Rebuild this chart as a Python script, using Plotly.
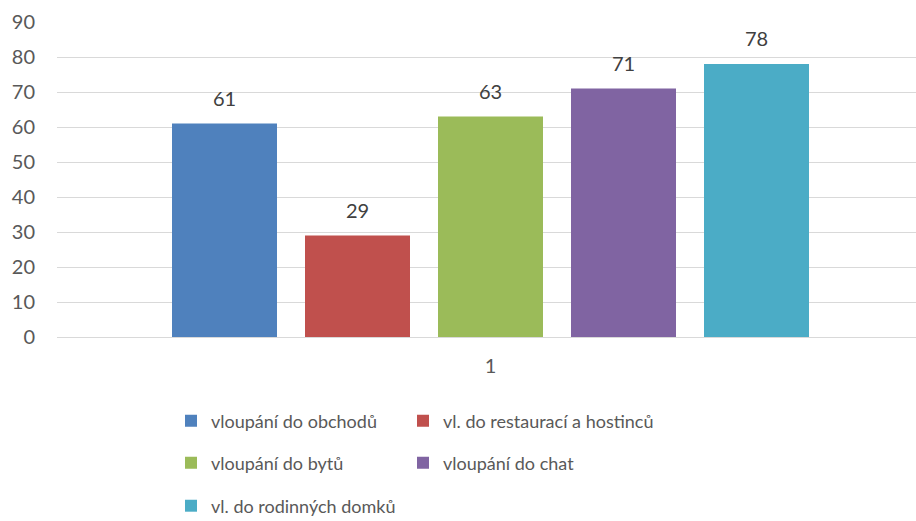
import plotly.graph_objects as go

categories = ["1"]
series_names = [
    "vloupání do obchodů",
    "vl. do restaurací a hostinců",
    "vloupání do bytů",
    "vloupání do chat",
    "vl. do rodinných domků",
]
series_values = [61, 29, 63, 71, 78]
series_colors = ["#4F81BD", "#C0504D", "#9BBB59", "#8064A2", "#4BACC6"]
y_ticks = [0, 10, 20, 30, 40, 50, 60, 70, 80, 90]

# legend placement (row, column) for each series
legend_rows = [0, 0, 1, 1, 2]
legend_cols = [0, 1, 0, 1, 0]

FONT = "Lato"
TXT = "#595959"
FS = 20
LFS = 18

W, H = 916, 521
L, R, T, B = 57, 0, 22, 184
pw = W - L - R
ph = H - T - B
center_px = 490.5 - L
rng_lo = -center_px / pw
group_px = 665
bargap = 1 - group_px / pw

def ypaper(px):
    return (H - B - px) / ph

def xpaper(px):
    return (px - L) / pw

row_px = [421, 463, 506]
col_px = [171, 403]

fig = go.Figure()
legends = {}
for i, (name, val, col) in enumerate(zip(series_names, series_values, series_colors)):
    lid = "legend" if i == 0 else f"legend{i + 1}"
    fig.add_trace(go.Bar(
        x=categories, y=[val], name=name, marker_color=col,
        marker_line_width=0, legend=lid, hoverinfo="skip",
    ))
    legends[lid] = dict(
        orientation="h", xanchor="left", yanchor="middle",
        x=xpaper(col_px[legend_cols[i]]), y=ypaper(row_px[legend_rows[i]]),
        font=dict(family=FONT, size=LFS, color=TXT),
        bgcolor="rgba(0,0,0,0)", borderwidth=0,
    )
for name, val in zip(series_names, series_values):
    fig.add_trace(go.Scatter(
        x=categories, y=[val], mode="markers+text", text=[str(val)],
        textposition="top center", marker=dict(size=19, opacity=0),
        textfont=dict(family=FONT, size=FS, color="#404040"),
        showlegend=False, hoverinfo="skip", cliponaxis=False,
    ))

fig.update_layout(
    width=W, height=H,
    margin=dict(l=L, r=R, t=T, b=B, pad=0, autoexpand=False),
    paper_bgcolor="white", plot_bgcolor="white",
    barmode="group", bargap=bargap, bargroupgap=28 / 133,
    scattermode="group", scattergap=bargap,
    font=dict(family=FONT, size=FS, color=TXT),
    xaxis=dict(type="category", range=[rng_lo, rng_lo + 1], showgrid=False,
               zeroline=False, showline=False, ticks="",
               tickfont=dict(family=FONT, size=FS, color=TXT),
               ticklabelstandoff=15),
    yaxis=dict(range=[0, 90], tickvals=y_ticks, showgrid=True,
               gridcolor="#D9D9D9", gridwidth=1.3, zeroline=True,
               zerolinecolor="#D9D9D9", zerolinewidth=1.3, showline=False,
               ticks="", tickfont=dict(family=FONT, size=FS, color=TXT),
               ticklabelstandoff=21),
)
fig.update_layout(**legends)

fig.write_html("out.html", config={"displayModeBar": False},
               post_script="document.body.style.margin='0';")
